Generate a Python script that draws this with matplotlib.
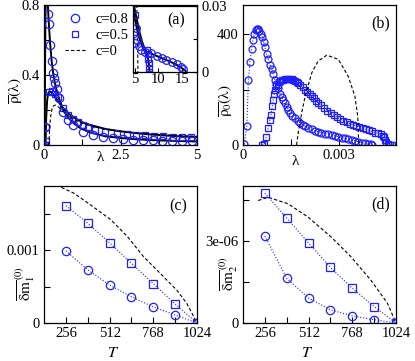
import matplotlib
matplotlib.use('Agg')
from matplotlib import pyplot as plt

plt.rcParams['font.family'] = 'serif'
plt.rcParams['font.serif'] = ['Liberation Serif', 'DejaVu Serif']
plt.rcParams['mathtext.fontset'] = 'stix'
plt.rcParams['font.size'] = 10

BLUE = '#2020ff'

# ---- panel (a): disorder averaged density, c=0.8 / 0.5 / 0
lam_c8 = [0.0, 0.03, 0.14, 0.17, 0.2, 0.25, 0.3, 0.33, 0.36, 0.41, 0.48, 0.63, 0.79, 0.96, 1.28,
          1.61, 1.94, 2.26, 2.58, 2.9, 3.22, 3.55, 3.87, 4.19, 4.51, 4.84]
rho_c8 = [0.0, 0.1, 0.75, 0.69, 0.57, 0.48, 0.41, 0.38, 0.355, 0.32, 0.27, 0.19, 0.145, 0.115, 0.077,
          0.058, 0.044, 0.038, 0.034, 0.031, 0.029, 0.027, 0.025, 0.024, 0.023, 0.022]
lam_c5 = [0.02, 0.05, 0.08, 0.17, 0.25, 0.35, 0.47, 0.63, 0.8, 0.96, 1.12, 1.28, 1.45, 1.67, 2.0,
          2.37, 2.7, 3.0, 3.3, 3.6, 3.9, 4.2, 4.5, 4.8]
rho_c5 = [0.0, 0.02, 0.1, 0.3, 0.307, 0.29, 0.274, 0.21, 0.17, 0.148, 0.13, 0.115, 0.1, 0.086, 0.077,
          0.067, 0.062, 0.058, 0.055, 0.052, 0.05, 0.048, 0.046, 0.044]
lam_th8 = [0.02, 0.03, 0.045, 0.06, 0.08, 0.1, 0.12, 0.14, 0.17, 0.2, 0.25, 0.3, 0.35, 0.4, 0.5,
           0.6, 0.7, 0.8, 1.0, 1.2, 1.5, 2.0, 2.5, 3.0, 3.5, 4.0, 4.5, 5.0]
rho_th8 = [0.0, 0.3, 0.7, 0.9, 0.95, 0.9, 0.82, 0.75, 0.66, 0.58, 0.48, 0.41, 0.36, 0.32, 0.26,
           0.215, 0.18, 0.155, 0.12, 0.095, 0.072, 0.05, 0.04, 0.033, 0.028, 0.025, 0.022, 0.02]
lam_th5 = [0.05, 0.07, 0.1, 0.13, 0.17, 0.2, 0.25, 0.3, 0.4, 0.5, 0.6, 0.8, 1.0, 1.25, 1.5, 2.0,
           2.5, 3.0, 3.5, 4.0, 4.5, 5.0]
rho_th5 = [0.0, 0.15, 0.25, 0.29, 0.305, 0.305, 0.3, 0.29, 0.265, 0.24, 0.215, 0.18, 0.155, 0.13,
           0.115, 0.092, 0.078, 0.068, 0.06, 0.054, 0.049, 0.045]
lam_th0 = [0.16, 0.18, 0.2, 0.23, 0.27, 0.32, 0.38, 0.45, 0.55, 0.7, 0.85, 1.0, 1.25, 1.5, 2.0,
           2.5, 3.0, 3.5, 4.0, 4.5, 5.0]
rho_th0 = [0.0, 0.08, 0.13, 0.18, 0.21, 0.225, 0.228, 0.22, 0.205, 0.18, 0.16, 0.145, 0.125, 0.11,
           0.09, 0.078, 0.069, 0.062, 0.057, 0.053, 0.05]

# inset of (a): large-lambda tail
in_lam_c8 = [5.0, 5.2, 5.5, 5.9, 6.4, 7.1, 8.5, 9.6, 10.7, 11.7, 12.8, 13.9, 14.8, 15.3]
in_rho_c8 = [0.013, 0.02, 0.0145, 0.012, 0.01, 0.0092, 0.0085, 0.0073, 0.0062, 0.0055, 0.0047,
             0.0035, 0.0024, 0.0012]
in_lam_c5 = [5.0, 5.2, 7.6, 7.7, 7.8, 7.9, 8.0, 8.0]
in_rho_c5 = [0.026, 0.018, 0.01, 0.008, 0.006, 0.004, 0.002, 0.0]
in_lam_th8 = [4.6, 5.0, 5.5, 6.0, 6.5, 7.0, 7.5, 8.5, 9.5, 10.5, 11.5, 12.5, 13.5, 14.5, 15.3,
              15.8, 16.0]
in_rho_th8 = [0.034, 0.028, 0.023, 0.018, 0.014, 0.011, 0.0092, 0.0083, 0.0074, 0.0065, 0.0056,
              0.0047, 0.0037, 0.0025, 0.0013, 0.0004, 0.0]
in_lam_th5 = [4.6, 5.0, 5.5, 6.0, 6.5, 7.0, 7.5, 7.8, 8.0, 8.1]
in_rho_th5 = [0.03, 0.024, 0.019, 0.015, 0.012, 0.0098, 0.008, 0.006, 0.003, 0.0]
in_lam_th0 = [5.2, 5.4, 5.5, 5.6, 5.65]
in_rho_th0 = [0.04, 0.03, 0.02, 0.008, 0.0]

# ---- panel (b): density of the zero mode (lambda in units of 1e-3)
b_lam_c8 = [0.04, 0.12, 0.17, 0.22, 0.27, 0.31, 0.36, 0.40, 0.43, 0.47, 0.51, 0.56, 0.61, 0.65,
            0.69, 0.74, 0.79, 0.84, 0.90, 0.95, 1.00, 1.05, 1.10, 1.16, 1.21, 1.26, 1.31, 1.37,
            1.42, 1.48, 1.55, 1.63, 1.71, 1.80, 1.88, 1.95, 2.05, 2.15, 2.25, 2.36, 2.46, 2.57,
            2.68, 2.78, 2.88, 2.99, 3.10, 3.20, 3.30, 3.41, 3.51, 3.62, 3.72, 3.83, 3.93, 4.00, 4.05]
b_rho_c8 = [3, 67, 236, 300, 348, 380, 402, 415, 420, 418, 412, 400, 388, 370,
            352, 330, 309, 290, 273, 255, 236, 220, 206, 185, 172, 164, 150, 138,
            127, 116, 106, 97, 88, 80, 73, 67, 62, 56, 51, 48, 45, 41,
            38, 36, 33, 30, 27, 24, 21, 18, 15, 12, 9, 6, 4, 2, 1]
b_lam_c5 = [0.60, 0.67, 0.73, 0.79, 0.84, 0.88, 0.92, 0.95, 0.98, 1.00, 1.05, 1.09, 1.12, 1.16,
            1.21, 1.26, 1.31, 1.37, 1.42, 1.48, 1.53, 1.58, 1.63, 1.68, 1.73, 1.80, 1.88, 1.95,
            2.02, 2.09, 2.16, 2.22, 2.29, 2.36, 2.45, 2.55, 2.65, 2.75, 2.85, 2.95, 3.05, 3.15,
            3.25, 3.35, 3.45, 3.55, 3.65, 3.75, 3.85, 3.95, 4.05, 4.15, 4.25, 4.32, 4.38, 4.42,
            4.46, 4.50, 4.55, 4.61, 4.68, 4.75]
b_rho_c5 = [0, 2, 30, 61, 90, 109, 140, 164, 185, 200, 212, 218, 226, 230,
            234, 236, 238, 239, 239, 238, 237, 236, 232, 228, 224, 218, 208, 200,
            192, 184, 176, 168, 160, 152, 143, 133, 124, 116, 108, 100, 93, 87,
            82, 77, 73, 69, 65, 61, 57, 53, 49, 45, 42, 38, 33, 28,
            18, 10, 4, 1, 0, 0]
b_lam_c0 = [1.68, 1.73, 1.84, 1.95, 2.16, 2.36, 2.63, 2.99, 3.30, 3.51, 3.60, 3.62, 3.63]
b_rho_c0 = [0, 42, 115, 176, 261, 303, 324, 309, 248, 176, 103, 42, 0]

# ---- panels (c), (d): moments vs T
T = [256, 384, 512, 640, 768, 896, 1024]
m1_c5 = [0.00161, 0.00137, 0.0011, 0.00082, 0.00054, 0.00026, 0.0]
m1_c8 = [0.00099, 0.00073, 0.00052, 0.00036, 0.00022, 0.00011, 0.0]
T_th = [200, 217, 304, 401, 518, 615, 711, 809, 906, 964, 1024]
m1_c0 = [0.00189, 0.001875, 0.00178, 0.00162, 0.00142, 0.00119, 0.00091, 0.00068, 0.00045,
         0.00027, 0.0]
m2_c5 = [4.74e-6, 3.83e-6, 2.92e-6, 2.03e-6, 1.27e-6, 0.60e-6, 0.0]
m2_c8 = [3.17e-6, 1.63e-6, 0.91e-6, 0.48e-6, 0.26e-6, 0.12e-6, 0.0]
T_th2 = [217, 275, 392, 508, 644, 760, 876, 973, 1024]
m2_c0 = [4.47e-6, 4.59e-6, 4.35e-6, 3.87e-6, 3.14e-6, 2.42e-6, 1.57e-6, 0.73e-6, 0.0]

fig = plt.figure(figsize=(4.15, 3.61), dpi=100)
W, H = 415.0, 361.0


def box(x0, y0, x1, y1):
    return [x0 / W, 1 - y1 / H, (x1 - x0) / W, (y1 - y0) / H]


def style(ax):
    ax.tick_params(direction='in', length=4, width=0.8, labelsize=10.5, pad=3)
    for s in ax.spines.values():
        s.set_linewidth(0.9)


mk = dict(mfc='none', mec=BLUE, mew=0.9, color=BLUE)

# (a)
ax = fig.add_axes(box(44, 5, 197, 145))
style(ax)
ax.plot(lam_th8, rho_th8, 'k-', lw=1.4)
ax.plot(lam_th5, rho_th5, 'k-', lw=1.4)
ax.plot(lam_c8, rho_c8, 'o', ms=6, ls='none', label='c=0.8', **mk)
ax.plot(lam_c5, rho_c5, 's', ms=5, ls='none', label='c=0.5', **mk)
ax.plot(lam_th0, rho_th0, 'k--', lw=0.8, dashes=(3, 2), label='c=0')
ax.set_xlim(0, 5)
ax.set_ylim(0, 0.8)
ax.set_xticks([0, 1.25, 2.5, 3.75, 5])
ax.set_xticklabels(['0', '', '2.5', '', '5'])
ax.set_yticks([0, 0.2, 0.4, 0.6, 0.8])
ax.set_yticklabels(['0', '', '0.4', '', '0.8'])
ax.set_xlabel('λ', fontsize=11)
ax.xaxis.set_label_coords(0.37, -0.045)
ax.set_ylabel(r'$\overline{\mathrm{\rho}}(\mathrm{\lambda})$', fontsize=11)
ax.yaxis.set_label_coords(-0.124, 0.386)
ax.legend(loc='upper left', bbox_to_anchor=(0.07, 1.02), frameon=False, fontsize=10.5,
          handlelength=1.4, handletextpad=0.7, labelspacing=0.2, borderpad=0.2)

ins = fig.add_axes(box(133, 6, 197, 72))
style(ins)
ins.tick_params(length=3)
ins.plot(in_lam_th8, in_rho_th8, 'k-', lw=1.4)
ins.plot(in_lam_th5, in_rho_th5, 'k-', lw=1.4)
ins.plot(in_lam_th0, in_rho_th0, 'k--', lw=0.8, dashes=(3, 2))
ins.plot(in_lam_c8, in_rho_c8, 'o', ms=5.5, ls='none', **mk)
ins.plot(in_lam_c5, in_rho_c5, 's', ms=4.5, ls='none', **mk)
ins.set_xlim(4.6, 18.2)
ins.set_ylim(0, 0.03)
ins.set_xticks([5, 10, 15])
ins.set_yticks([0, 0.015, 0.03])
ins.set_yticklabels(['0', '', '0.03'])
ins.yaxis.tick_right()
ins.tick_params(axis='x', pad=1)
ins.text(0.68, 0.72, '(a)', transform=ins.transAxes, ha='center', fontsize=11.5)

# (b)
bx = fig.add_axes(box(243, 5, 396, 145))
style(bx)
bx.plot([v * 1e-3 for v in b_lam_c8], b_rho_c8, 'o', ms=5, ls=':', lw=0.8, **mk)
bx.plot([v * 1e-3 for v in b_lam_c5], b_rho_c5, 's', ms=4.5, ls=':', lw=0.8, **mk)
bx.plot([v * 1e-3 for v in b_lam_c0], b_rho_c0, 'k--', lw=0.8, dashes=(3, 2))
bx.set_xlim(0, 0.0048)
bx.set_ylim(0, 505)
bx.set_xticks([0, 0.0015, 0.003, 0.0045])
bx.set_xticklabels(['0', '', '0.003', ''])
bx.set_yticks([0, 200, 400])
bx.set_yticklabels(['0', '', '400'])
bx.set_xlabel('λ', fontsize=11)
bx.xaxis.set_label_coords(0.34, -0.07)
bx.set_ylabel(r'$\overline{\mathrm{\rho}_0}(\mathrm{\lambda})$', fontsize=11)
bx.yaxis.set_label_coords(-0.052, 0.32)
bx.text(0.90, 0.84, '(b)', transform=bx.transAxes, ha='center', fontsize=11.5)

# (c)
cx = fig.add_axes(box(44, 186, 197, 323))
style(cx)
cx.plot(T_th, m1_c0, 'k--', lw=0.8, dashes=(3, 2))
cx.plot(T, m1_c5, 's', ms=5.5, ls=':', lw=0.8, **mk)
cx.plot(T, m1_c8, 'o', ms=6, ls=':', lw=0.8, **mk)
cx.set_xlim(128, 1024)
cx.set_ylim(0, 0.00188)
cx.set_xticks(T)
cx.set_xticklabels(['256', '', '512', '', '768', '', '1024'])
cx.set_yticks([0, 0.0005, 0.001, 0.0015])
cx.set_yticklabels(['0', '', '0.001', ''])
cx.set_xlabel(r'$T$', fontsize=11.5)
cx.xaxis.set_label_coords(0.45, -0.16)
cx.set_ylabel(r'$\overline{\mathrm{\delta m}}_{1}^{\,(0)}$', fontsize=11)
cx.yaxis.set_label_coords(-0.046, 0.29)
cx.text(0.88, 0.82, '(c)', transform=cx.transAxes, ha='center', fontsize=11.5)

# (d)
dx = fig.add_axes(box(243, 186, 396, 323))
style(dx)
dx.plot(T_th2, m2_c0, 'k--', lw=0.8, dashes=(3, 2))
dx.plot(T, m2_c5, 's', ms=5.5, ls=':', lw=0.8, **mk)
dx.plot(T, m2_c8, 'o', ms=6, ls=':', lw=0.8, **mk)
dx.set_xlim(128, 1024)
dx.set_ylim(0, 5e-6)
dx.set_xticks(T)
dx.set_xticklabels(['256', '', '512', '', '768', '', '1024'])
dx.set_yticks([0, 1.5e-6, 3e-6, 4.5e-6])
dx.set_yticklabels(['0', '', '3e-06', ''])
dx.set_xlabel(r'$T$', fontsize=11.5)
dx.xaxis.set_label_coords(0.42, -0.16)
dx.set_ylabel(r'$\overline{\mathrm{\delta m}}_{2}^{\,(0)}$', fontsize=11)
dx.yaxis.set_label_coords(-0.02, 0.36)
dx.text(0.9, 0.84, '(d)', transform=dx.transAxes, ha='center', fontsize=11.5)

fig.savefig('out.png', dpi=100)
